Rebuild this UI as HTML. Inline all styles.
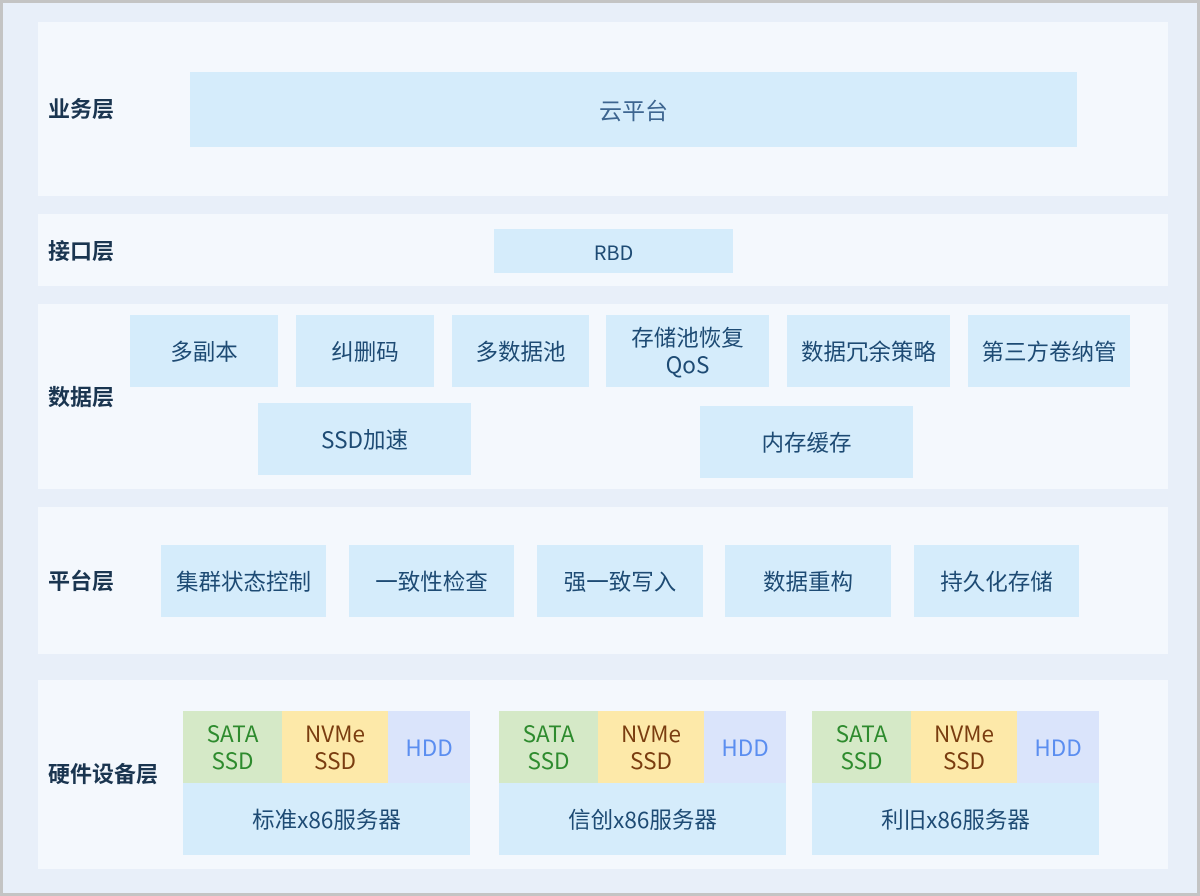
<!DOCTYPE html><html><head><meta charset="utf-8"><style>
*{margin:0;padding:0;box-sizing:border-box}
body{width:1200px;height:896px;background:#c4c4c4;position:relative;overflow:hidden;font-family:"Noto Sans CJK SC","Liberation Sans",sans-serif}
.bg{position:absolute;left:3px;top:3px;width:1194px;height:890px;background:#e8eff9}
.p{position:absolute;left:38px;width:1130px;background:#f4f8fd}
.l{position:absolute;left:48px;font-size:22px;font-weight:bold;color:#1a3550;transform:translateY(-50%)}
.b{position:absolute;background:#d5ecfb;color:#1e4b74;font-size:22.5px;display:flex;align-items:center;justify-content:center;text-align:center;line-height:27px}
</style></head><body><div class="bg"></div>
<div class="p" style="top:22px;height:174px"></div>
<div class="p" style="top:214px;height:72px"></div>
<div class="p" style="top:304px;height:185px"></div>
<div class="p" style="top:507px;height:147px"></div>
<div class="p" style="top:680px;height:189px"></div>
<div class="l" style="top:108px">业务层</div>
<div class="l" style="top:250px">接口层</div>
<div class="l" style="top:396px">数据层</div>
<div class="l" style="top:580px">平台层</div>
<div class="l" style="top:773px">硬件设备层</div>
<div class="b" style="left:190px;top:72px;width:887px;height:75px;font-size:23px;color:#3d6590">云平台</div>
<div class="b" style="left:494px;top:229px;width:239px;height:44px;font-size:20px">RBD</div>
<div class="b" style="left:130px;top:315px;width:148px;height:72px">多副本</div>
<div class="b" style="left:296px;top:315px;width:138px;height:72px">纠删码</div>
<div class="b" style="left:452px;top:315px;width:137px;height:72px">多数据池</div>
<div class="b" style="left:606px;top:315px;width:163px;height:72px">存储池恢复<br>QoS</div>
<div class="b" style="left:787px;top:315px;width:163px;height:72px">数据冗余策略</div>
<div class="b" style="left:968px;top:315px;width:162px;height:72px">第三方卷纳管</div>
<div class="b" style="left:258px;top:403px;width:213px;height:72px">SSD加速</div>
<div class="b" style="left:700px;top:406px;width:213px;height:72px">内存缓存</div>
<div class="b" style="left:161px;top:545px;width:165px;height:72px">集群状态控制</div>
<div class="b" style="left:349px;top:545px;width:165px;height:72px">一致性检查</div>
<div class="b" style="left:537px;top:545px;width:166px;height:72px">强一致写入</div>
<div class="b" style="left:725px;top:545px;width:166px;height:72px">数据重构</div>
<div class="b" style="left:914px;top:545px;width:165px;height:72px">持久化存储</div>
<div class="b" style="left:183px;top:711px;width:99px;height:72px;background:#d5e9c7;color:#2e8b2e">SATA<br>SSD</div>
<div class="b" style="left:282px;top:711px;width:106px;height:72px;background:#fde9a9;color:#7a3d10">NVMe<br>SSD</div>
<div class="b" style="left:388px;top:711px;width:82px;height:72px;background:#dae4fb;color:#5b8ef0">HDD</div>
<div class="b" style="left:183px;top:783px;width:287px;height:72px">标准x86服务器</div>
<div class="b" style="left:499px;top:711px;width:99px;height:72px;background:#d5e9c7;color:#2e8b2e">SATA<br>SSD</div>
<div class="b" style="left:598px;top:711px;width:106px;height:72px;background:#fde9a9;color:#7a3d10">NVMe<br>SSD</div>
<div class="b" style="left:704px;top:711px;width:82px;height:72px;background:#dae4fb;color:#5b8ef0">HDD</div>
<div class="b" style="left:499px;top:783px;width:287px;height:72px">信创x86服务器</div>
<div class="b" style="left:812px;top:711px;width:99px;height:72px;background:#d5e9c7;color:#2e8b2e">SATA<br>SSD</div>
<div class="b" style="left:911px;top:711px;width:106px;height:72px;background:#fde9a9;color:#7a3d10">NVMe<br>SSD</div>
<div class="b" style="left:1017px;top:711px;width:82px;height:72px;background:#dae4fb;color:#5b8ef0">HDD</div>
<div class="b" style="left:812px;top:783px;width:287px;height:72px">利旧x86服务器</div>
</body></html>
